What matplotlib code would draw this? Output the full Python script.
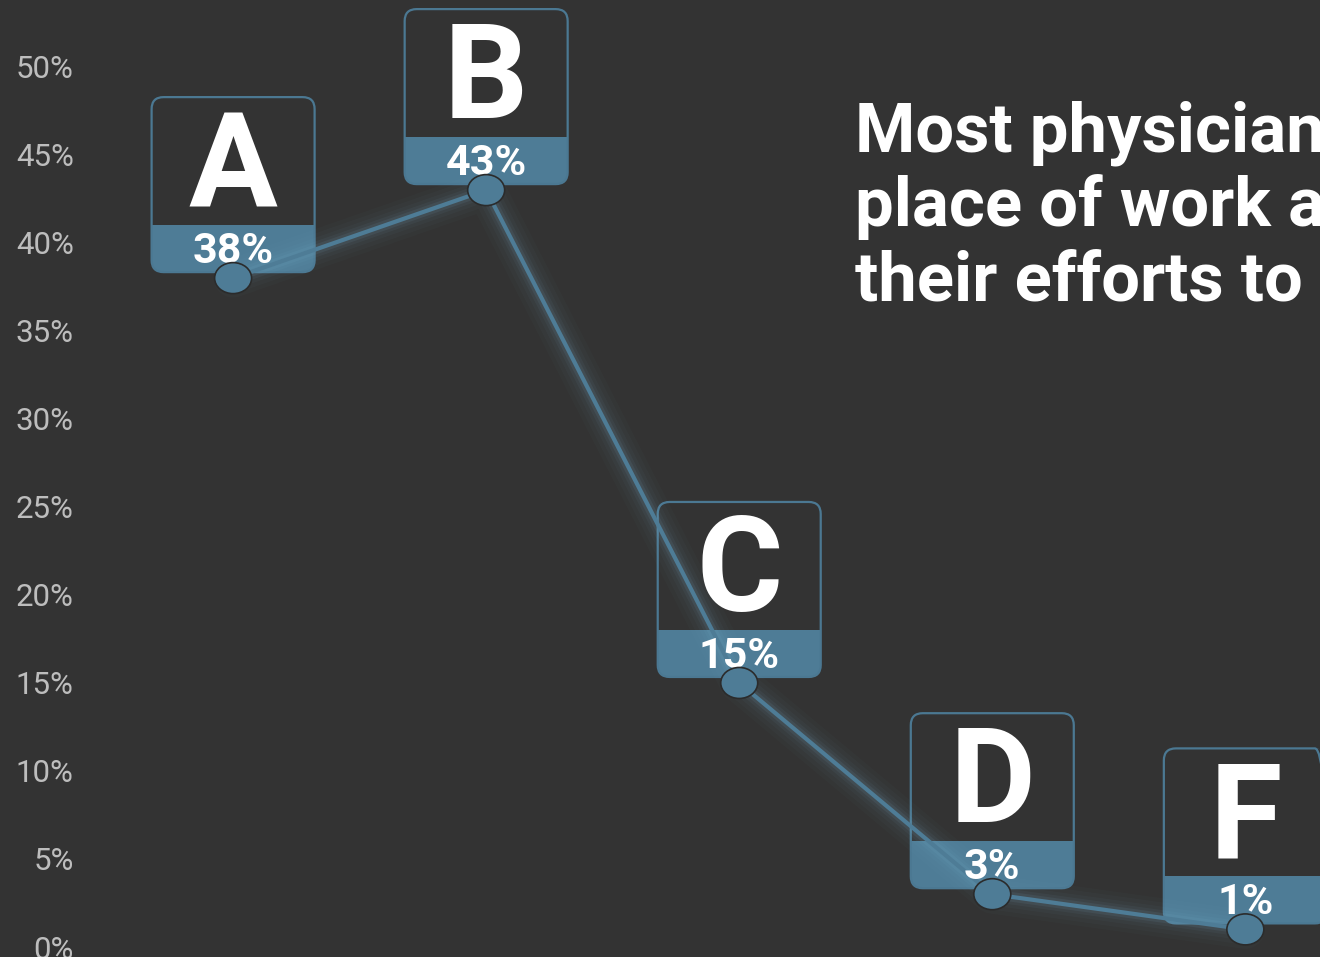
import matplotlib
matplotlib.use("Agg")
import matplotlib.pyplot as plt
from matplotlib.patches import FancyBboxPatch, Rectangle, Ellipse
from matplotlib.transforms import ScaledTranslation
from matplotlib.ticker import FuncFormatter

# Data
grades = ["A", "B", "C", "D", "F"]
shares = [38, 43, 15, 3, 1]
yticks = [0, 5, 10, 15, 20, 25, 30, 35, 40, 45, 50]
title_lines = ["Most physicians grade their",
               "place of work a B for",
               "their efforts to reduce burnout"]

BG = "#333333"
BLUE = "#4e7c96"
EDGE = "#4b7892"
GLOW = "#7fb4d0"

plt.rcParams["font.family"] = ["Roboto", "DejaVu Sans"]

fig = plt.figure(figsize=(13.2, 9.57), dpi=100, facecolor=BG)
ax = fig.add_axes([80 / 1320, 0, 1 - 80 / 1320, 1])
ax.set_facecolor(BG)

x = list(range(len(grades)))
ax.set_xlim(-0.605, 4.295)
ax.set_ylim(-0.568, 53.8)

# line with soft glow
for w, a in [(28, 0.025), (22, 0.03), (16, 0.04), (11, 0.06), (7, 0.09)]:
    ax.plot(x, shares, color=GLOW, lw=w, alpha=a, solid_capstyle="round", zorder=4)
ax.plot(x, shares, color=BLUE, lw=3, zorder=4.5)

# grade cards
for xi, yi, g in zip(x, shares, grades):
    trans = fig.dpi_scale_trans + ScaledTranslation(xi, yi, ax.transData)
    card = FancyBboxPatch((-0.815, 0.06), 1.63, 1.75,
                          boxstyle="round,pad=0,rounding_size=0.12",
                          transform=trans, facecolor=BLUE, edgecolor="none",
                          zorder=3, clip_on=False)
    ax.add_patch(card)
    top = Rectangle((-0.9, 0.53), 1.8, 1.4, transform=trans,
                    facecolor=BG, edgecolor="none", zorder=3.1)
    ax.add_patch(top)
    top.set_clip_path(card)
    border = FancyBboxPatch((-0.815, 0.06), 1.63, 1.75,
                            boxstyle="round,pad=0,rounding_size=0.12",
                            transform=trans, facecolor="none", edgecolor=EDGE,
                            lw=1.6, zorder=3.2, clip_on=False)
    ax.add_patch(border)
    ax.text(0, 0.72, g, transform=trans, ha="center", va="baseline",
            fontsize=95, fontweight="bold", color="white", zorder=6, clip_on=False)
    ax.text(0, 0.15, f"{yi}%", transform=trans, ha="center", va="baseline",
            fontsize=31, fontweight="bold", color="white", zorder=6, clip_on=False)
    ax.add_patch(Ellipse((0, 0), 0.37, 0.31, transform=trans, facecolor=BLUE,
                         edgecolor="#2b2b2b", lw=1.2, zorder=7, clip_on=False))

# axes styling
ax.set_yticks(yticks)
ax.yaxis.set_major_formatter(FuncFormatter(lambda v, p: f"{v:.0f}%"))
ax.tick_params(axis="y", length=0, pad=4.5, labelsize=22.5, labelcolor="#bdbdbd")
ax.set_xticks([])
for s in ax.spines.values():
    s.set_visible(False)

# title (cropped on the right like the reference)
for i, line in enumerate(title_lines):
    fig.text(855 / 1320, 1 - (152 + 74 * i) / 957, line, ha="left", va="baseline",
             fontsize=49.5, fontweight="bold", color="white")

fig.savefig("out.png", dpi=100, facecolor=BG)
